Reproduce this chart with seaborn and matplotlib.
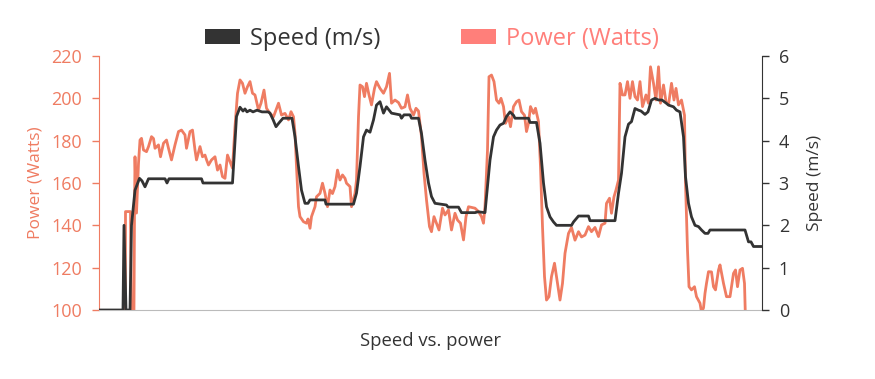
import matplotlib
matplotlib.use("Agg")
import matplotlib.pyplot as plt
from matplotlib.patches import Patch
import seaborn as sns
import pandas as pd

# ---- data (time in seconds) ----
speed_time = [0, 48, 50, 54, 62, 65, 72, 81, 86, 92, 99, 132, 136, 140, 205, 208, 267, 275, 282, 288,
              292, 296, 302, 308, 316, 326, 338, 342, 348, 354, 360, 368, 386, 392, 399, 405, 412, 418,
              422, 452, 454, 509, 515, 522, 529, 535, 542, 549, 555, 562, 569, 575, 585, 602, 605, 610,
              622, 625, 639, 645, 652, 659, 665, 672, 695, 698, 719, 725, 752, 758, 772, 775, 782, 789,
              795, 802, 809, 815, 822, 829, 832, 859, 862, 875, 882, 889, 895, 902, 909, 915, 945, 949,
              959, 979, 982, 1032, 1039, 1045, 1052, 1059, 1065, 1072, 1079, 1084, 1092, 1098, 1105,
              1112, 1119, 1126, 1135, 1139, 1149, 1155, 1162, 1169, 1173, 1179, 1185, 1192, 1199, 1205,
              1212, 1218, 1222, 1292, 1299, 1304, 1309, 1326]
speed_ms = [0, 0, 2.0, 0, 0, 2.0, 2.83, 3.11, 3.05, 2.91, 3.1, 3.1, 3.0, 3.1, 3.1, 3.0, 3.0, 4.57, 4.79, 4.7,
            4.75, 4.68, 4.72, 4.68, 4.72, 4.68, 4.68, 4.65, 4.5, 4.33, 4.42, 4.53, 4.53, 4.09, 3.39, 2.83,
            2.52, 2.52, 2.6, 2.6, 2.5, 2.5, 2.76, 3.39, 4.09, 4.25, 4.2, 4.49, 4.84, 4.92, 4.65, 4.8, 4.65,
            4.61, 4.53, 4.61, 4.61, 4.53, 4.53, 4.17, 3.54, 3.0, 2.68, 2.52, 2.48, 2.43, 2.43, 2.30, 2.30,
            2.32, 2.3, 2.68, 3.54, 4.09, 4.25, 4.37, 4.41, 4.57, 4.68, 4.6, 4.53, 4.53, 4.43, 4.43, 3.94,
            3.0, 2.44, 2.2, 2.08, 2.0, 2.0, 2.08, 2.22, 2.22, 2.11, 2.11, 2.76, 3.23, 4.09, 4.39, 4.45,
            4.76, 4.72, 4.7, 4.62, 4.68, 4.96, 5.0, 4.96, 4.96, 4.88, 4.84, 4.8, 4.72, 4.68, 4.09, 3.15,
            2.52, 2.2, 2.0, 1.97, 1.89, 1.81, 1.81, 1.89, 1.89, 1.61, 1.61, 1.5, 1.5]

power_time = [0, 52, 53, 63, 66, 69, 71, 72, 75, 79, 82, 85, 89, 95, 99, 105, 109, 112, 119, 123, 129, 135,
              139, 145, 152, 159, 165, 172, 175, 182, 187, 192, 195, 202, 207, 212, 215, 219, 225, 232,
              237, 242, 247, 252, 257, 262, 267, 272, 277, 282, 287, 292, 297, 302, 307, 312, 319, 324,
              330, 335, 342, 349, 359, 365, 372, 379, 384, 389, 392, 395, 399, 402, 409, 415, 418, 422,
              425, 432, 435, 442, 447, 452, 457, 462, 467, 472, 477, 482, 487, 492, 495, 502, 505, 512,
              515, 519, 522, 527, 531, 535, 540, 545, 551, 555, 562, 569, 575, 581, 585, 592, 599, 605,
              612, 617, 622, 629, 634, 639, 645, 650, 655, 661, 665, 670, 675, 680, 687, 692, 699, 705,
              712, 717, 723, 729, 734, 739, 745, 752, 759, 765, 769, 772, 777, 780, 785, 790, 795, 800,
              804, 809, 813, 819, 823, 829, 835, 840, 845, 851, 855, 859, 863, 869, 873, 879, 883, 887,
              891, 895, 900, 905, 911, 915, 922, 927, 932, 939, 945, 952, 959, 965, 972, 979, 985, 992,
              999, 1005, 1012, 1015, 1021, 1025, 1030, 1034, 1039, 1042, 1047, 1052, 1057, 1062, 1067,
              1072, 1077, 1082, 1087, 1094, 1099, 1103, 1109, 1114, 1119, 1123, 1129, 1134, 1139, 1145,
              1150, 1154, 1159, 1165, 1171, 1173, 1177, 1180, 1185, 1191, 1195, 1202, 1205, 1209, 1212,
              1215, 1219, 1225, 1229, 1233, 1239, 1242, 1249, 1255, 1262, 1269, 1273, 1277, 1282, 1287,
              1291, 1293, 1296, 1326]
power_w = [0, 0, 146.5, 146.5, 60, 60, 146, 172.4, 145.8, 169.3, 180.3, 181.1, 175.6, 174.8, 177.2, 181.9,
           181, 176.4, 178, 172.4, 178.8, 180.3, 176.4, 170.9, 178, 184.3, 185, 182.7, 176.4, 184.3, 185,
           175.6, 170.9, 177.2, 172.4, 173.2, 171, 168.5, 170.9, 172.4, 166.1, 168.5, 163, 162.2, 173.2,
           170.1, 167, 186.6, 202.4, 208.7, 207.1, 202.4, 205.5, 207.9, 202.4, 201.6, 194.5, 197.7, 203.9,
           195.3, 192.9, 191.3, 197.7, 192.1, 192.9, 189.8, 193.7, 191.3, 183.5, 167.7, 148.8, 144.1,
           141.7, 141, 143, 138.6, 144.1, 148.8, 153.5, 155.1, 159.9, 155.1, 148.8, 156.7, 155, 158.3,
           166.1, 161.4, 163.8, 162.2, 159.9, 158.3, 148.8, 155.1, 161.4, 191.3, 206.3, 205.5, 200.8,
           207.1, 201.6, 196.9, 204.7, 207.9, 204.7, 202.4, 205.5, 211.8, 197.7, 199.2, 198, 195.3, 196,
           201.6, 195.3, 192.1, 195.3, 194, 181.9, 164.6, 152, 139.4, 137, 144.1, 141, 137.8, 148.1,
           144.9, 147.3, 137.8, 145.7, 142.5, 141, 133.1, 144.1, 148.8, 148.5, 148.1, 146.5, 144.1, 141,
           148.8, 175.6, 210.2, 211, 207.9, 199.2, 197.7, 200, 196.1, 188.2, 191.3, 186.6, 196.1, 198.4,
           199.2, 193.7, 192, 184.3, 188.2, 196.1, 192.9, 195.3, 189, 167.7, 139.4, 115.8, 104.7, 106.3,
           115.8, 122.1, 115.8, 104.7, 112.6, 126.8, 136.2, 139, 133, 137, 134.5, 135.4, 139.4, 137, 139,
           134.7, 140.2, 141, 150.4, 152.8, 145.7, 153.5, 156.7, 161.4, 207.1, 201.6, 201.6, 207.9, 200,
           207.9, 200.8, 199.2, 207.9, 196.1, 201.6, 197.7, 214.9, 207.1, 199.2, 214.9, 197.7, 206.3,
           198.4, 196.9, 207.1, 199.2, 204.7, 196.9, 199.2, 192, 160, 128.3, 111, 109.5, 111, 106.3,
           103.2, 99, 101, 107.9, 112.6, 118.1, 118, 111, 109.5, 118.9, 121.3, 112.6, 106.3, 106.3, 117.3,
           118.9, 111, 118.9, 119.7, 112.6, 95, 0, 0]

power_ticks = [100, 120, 140, 160, 180, 200, 220]
speed_ticks = [0, 1, 2, 3, 4, 5, 6]
legend_labels = ["Speed (m/s)", "Power (Watts)"]
x_label = "Speed vs. power"

POWER_C = "#EF7C62"
POWER_LEG = "#FF7F7A"
SPEED_C = "#333333"

sns.set_style("white")
plt.rcParams["font.family"] = ["Open Sans", "DejaVu Sans"]

speed_df = pd.DataFrame({"t": speed_time, "v": speed_ms})
power_df = pd.DataFrame({"t": power_time, "p": power_w})

fig = plt.figure(figsize=(8.75, 3.79), dpi=100)
ax = fig.add_axes([99 / 875, 69 / 379, 663 / 875, 254 / 379])
ax2 = ax.twinx()

sns.lineplot(data=power_df, x="t", y="p", ax=ax, color=POWER_C, linewidth=2.0, estimator=None, sort=False)
sns.lineplot(data=speed_df, x="t", y="v", ax=ax2, color=SPEED_C, linewidth=2.0, estimator=None, sort=False)

ax.set_xlim(min(speed_time), max(speed_time))
ax.set_ylim(power_ticks[0], power_ticks[-1])
ax2.set_ylim(speed_ticks[0], speed_ticks[-1])
ax.set_yticks(power_ticks)
ax2.set_yticks(speed_ticks)
ax.set_xticks([])

ax.set_ylabel("Power (Watts)", color=POWER_C, fontsize=12.5, labelpad=6)
ax2.set_ylabel("Speed (m/s)", color=SPEED_C, fontsize=12.5, labelpad=13)
ax.set_xlabel(x_label, color=SPEED_C, fontsize=13.3, labelpad=16)

ax.tick_params(axis="y", colors=POWER_C, labelsize=13, length=5, width=1, direction="out", pad=7, left=True)
ax2.tick_params(axis="y", colors=SPEED_C, labelsize=13, length=5, width=1, direction="out", pad=7, right=True)
for lab in ax.get_yticklabels():
    lab.set_color(POWER_C)

for a in (ax, ax2):
    a.spines["top"].set_visible(False)
ax.spines["left"].set_color(POWER_C)
ax.spines["right"].set_visible(False)
ax2.spines["left"].set_visible(False)
ax2.spines["right"].set_color(SPEED_C)
ax.spines["bottom"].set_color("#bbbbbb")
ax2.spines["bottom"].set_visible(False)

handles = [Patch(facecolor=SPEED_C, edgecolor="none"), Patch(facecolor=POWER_LEG, edgecolor="none")]
leg = fig.legend(handles, legend_labels, loc="center", bbox_to_anchor=(0.494, 1 - 39 / 379), ncol=2,
                 frameon=False, fontsize=17, handlelength=1.48, handleheight=0.59, handletextpad=0.42,
                 columnspacing=3.43)
leg.get_texts()[0].set_color(SPEED_C)
leg.get_texts()[1].set_color(POWER_LEG)

fig.savefig("out.png", dpi=100)
